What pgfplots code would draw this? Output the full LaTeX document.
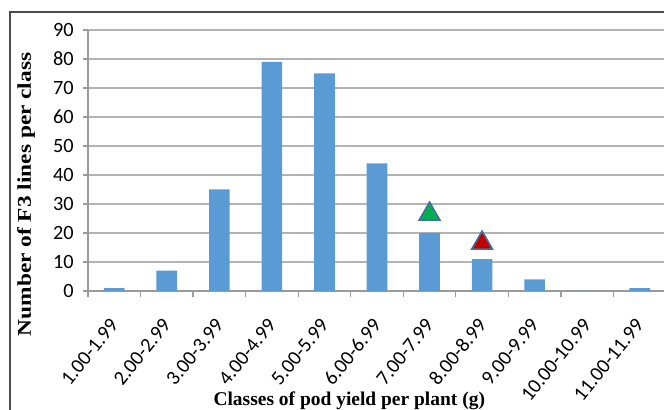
\documentclass[border=0pt]{standalone}
\usepackage{fontspec}
\setmainfont{Liberation Serif}
\newfontfamily\calibri{Carlito}
\usepackage{pgfplots}
\pgfplotsset{compat=1.18}
\definecolor{barblue}{HTML}{5B9BD5}
\definecolor{mkgreen}{HTML}{00B050}
\definecolor{mkred}{HTML}{C00000}
\definecolor{mkedge}{HTML}{41719C}
\definecolor{gridgray}{HTML}{B3B3B3}
\definecolor{axgray}{HTML}{9A9A9A}
\begin{document}
\begin{tikzpicture}
\path[use as bounding box] (0,0) rectangle (498pt,307.5pt);
\draw[color=black!70, line width=0.9pt] (7.5pt,-20pt) -- (7.5pt,298.5pt) -- (520pt,298.5pt);
\begin{axis}[
  at={(66pt,89.25pt)}, anchor=south west,
  scale only axis, width=433.5pt, height=195.75pt,
  xmin=-0.5, xmax=10.5, ymin=0, ymax=90,
  axis x line*=bottom, axis y line*=left,
  axis line style={draw=axgray, line width=0.9pt, -},
  ytick={0,10,...,90},
  ymajorgrids, grid style={draw=gridgray, line width=0.9pt},
  xtick={0,...,10},
  xticklabels={1.00-1.99,2.00-2.99,3.00-3.99,4.00-4.99,5.00-5.99,6.00-6.99,7.00-7.99,8.00-8.99,9.00-9.99,10.00-10.99,11.00-11.99},
  minor xtick={-0.5,0.5,...,10.5},
  major x tick style={draw=none},
  minor x tick style={draw=axgray, line width=0.9pt},
  ytick style={draw=axgray, line width=0.9pt},
  tick align=outside, major tick length=3.75pt, minor tick length=4.5pt,
  /pgf/number format/assume math mode=true,
  ticklabel style={font=\calibri\fontsize{15.2}{15}\selectfont},
  xticklabel style={xshift=0pt, yshift=-19pt, rotate=51, anchor=east, inner sep=0pt},
  yticklabel style={xshift=-3.5pt},
  xlabel={Classes of pod yield per plant (g)},
  ylabel={Number of F3 lines per class},
  xlabel style={font=\bfseries\fontsize{14.6}{15}\selectfont, at={(axis description cs:0.452,0)}, anchor=center, yshift=-82.5pt},
  ylabel style={font=\bfseries\fontsize{14.6}{15}\selectfont, at={(axis description cs:-0.107,0.37)}, anchor=center, xscale=1.2},
  clip=false,
]
\addplot[ybar, bar width=15.5pt, fill=barblue, draw=none] coordinates {
(0,1) (1,7) (2,35) (3,79) (4,75) (5,44) (6,20) (7,11) (8,4) (9,0) (10,1)};
\addplot[only marks, mark=triangle*, mark size=9pt, mark options={fill=mkgreen, draw=mkedge, line width=1.2pt}] coordinates {(6,26.5)};
\addplot[only marks, mark=triangle*, mark size=9pt, mark options={fill=mkred, draw=mkedge, line width=1.2pt}] coordinates {(7,16.5)};
\end{axis}
\end{tikzpicture}
\end{document}
